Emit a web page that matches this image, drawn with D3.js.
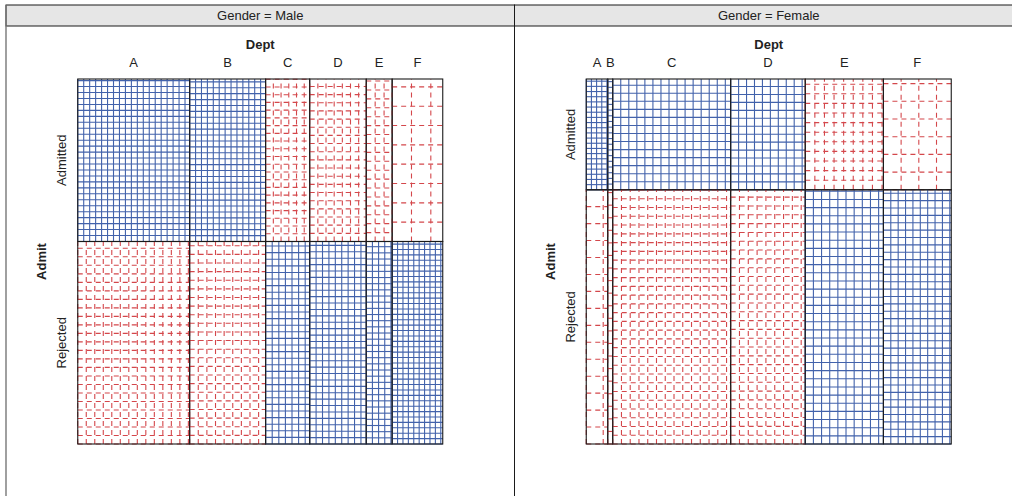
<!DOCTYPE html>
<html>
<head>
<meta charset="utf-8">
<script src="https://cdn.jsdelivr.net/npm/d3@7"></script>
<style>
  html, body { margin: 0; padding: 0; background: #fff; }
  svg { display: block; font-family: "Liberation Sans", Arial, Helvetica, sans-serif; }
</style>
</head>
<body>
<svg id="chart" width="1012" height="496"></svg>
<script>
// ---- data (UCBAdmissions, conditioned on Gender) ----
const depts = ["A", "B", "C", "D", "E", "F"];
const admitLevels = ["Admitted", "Rejected"];
const genders = ["Male", "Female"];
const maleAdmitted   = [512, 353, 120, 138, 53, 22];
const maleRejected   = [313, 207, 205, 279, 138, 351];
const femaleAdmitted = [89, 17, 202, 131, 94, 24];
const femaleRejected = [19, 8, 391, 244, 299, 317];

const counts = {
  Male:   [maleAdmitted, maleRejected],
  Female: [femaleAdmitted, femaleRejected]
};

const svg = d3.select("#chart");
const W = 1012, H = 496;
const panelW = 508.5, panelX0 = 6, panelTop = 5, stripH = 21;
const mosaicSize = 365, mosaicTop = 79;
const blue = "#4262ab", red = "#d4474b", ink = "#1a1a1a";
const fs = 13;

genders.forEach((g, gi) => {
  const px = panelX0 + gi * panelW;
  const pg = svg.append("g");
  // strip
  pg.append("rect").attr("x", px).attr("y", panelTop).attr("width", panelW).attr("height", stripH)
    .attr("fill", "#e6e6e6").attr("stroke", ink).attr("stroke-width", 1);
  pg.append("text").attr("x", px + panelW / 2).attr("y", panelTop + stripH / 2 + 4.5)
    .attr("text-anchor", "middle").attr("font-size", fs).attr("fill", "#222")
    .text("Gender = " + g);
  // panel frame (left edge + right edge)
  pg.append("line").attr("x1", px).attr("x2", px).attr("y1", panelTop).attr("y2", H + 5)
    .attr("stroke", gi === 0 ? "#777" : ink).attr("stroke-width", gi === 0 ? 1.4 : 1);
  pg.append("line").attr("x1", px + panelW).attr("x2", px + panelW).attr("y1", panelTop).attr("y2", H + 5)
    .attr("stroke", ink).attr("stroke-width", 1);

  const [adm, rej] = counts[g];
  const colTot = depts.map((d, i) => adm[i] + rej[i]);
  const rowTot = [d3.sum(adm), d3.sum(rej)];
  const N = d3.sum(colTot);

  const mx0 = px + (panelW - mosaicSize) / 2;
  const x = d3.scaleLinear().domain([0, N]).range([mx0, mx0 + mosaicSize]);
  const y = d3.scaleLinear().domain([0, N]).range([mosaicTop, mosaicTop + mosaicSize]);
  const colStart = d3.cumsum([0, ...colTot]);
  const rowStart = d3.cumsum([0, ...rowTot]);

  // axis titles
  pg.append("text").attr("x", mx0 + mosaicSize / 2).attr("y", 48.5).attr("text-anchor", "middle")
    .attr("font-size", fs).attr("font-weight", "bold").attr("fill", "#222").text("Dept");
  depts.forEach((d, i) => {
    pg.append("text").attr("x", (x(colStart[i]) + x(colStart[i + 1])) / 2).attr("y", 67)
      .attr("text-anchor", "middle").attr("font-size", fs).attr("fill", "#222").text(d);
  });
  const admitX = mx0 - 36;
  pg.append("text").attr("transform", `translate(${admitX + 4.5},${mosaicTop + mosaicSize / 2}) rotate(-90)`)
    .attr("text-anchor", "middle").attr("font-size", fs).attr("font-weight", "bold").attr("fill", "#222").text("Admit");
  admitLevels.forEach((a, j) => {
    pg.append("text").attr("transform", `translate(${mx0 - 16 + 4.5},${(y(rowStart[j]) + y(rowStart[j + 1])) / 2}) rotate(-90)`)
      .attr("text-anchor", "middle").attr("font-size", fs).attr("fill", "#222").text(a);
  });

  // sieve cells
  depts.forEach((d, i) => {
    admitLevels.forEach((a, j) => {
      const obs = counts[g][j][i];
      const exp = colTot[i] * rowTot[j] / N;
      const x0 = x(colStart[i]), x1 = x(colStart[i + 1]);
      const y0 = y(rowStart[j]), y1 = y(rowStart[j + 1]);
      const w = x1 - x0, h = y1 - y0;
      const pos = obs - exp > 0;
      const col = pos ? blue : red;
      const dash = pos ? null : "5,4";
      const cell = pg.append("g");
      if (obs > 0) {
        const side = Math.sqrt(w * h / obs);
        const ii = d3.range(0, w + 1e-9, side);
        const jj = d3.range(0, h + 1e-9, side);
        cell.selectAll("line.v").data(ii).join("line")
          .attr("x1", v => x0 + v).attr("x2", v => x0 + v)
          .attr("y1", y1).attr("y2", y0)
          .attr("stroke", col).attr("stroke-width", 1.1).attr("stroke-dasharray", dash);
        cell.selectAll("line.h").data(jj).join("line")
          .attr("x1", x0).attr("x2", x1)
          .attr("y1", v => y1 - v).attr("y2", v => y1 - v)
          .attr("stroke", col).attr("stroke-width", 1.1).attr("stroke-dasharray", dash);
      }
      cell.append("rect").attr("x", x0).attr("y", y0).attr("width", w).attr("height", h)
        .attr("fill", "none").attr("stroke", ink).attr("stroke-width", 1.1);
    });
  });
});
</script>
</body>
</html>
